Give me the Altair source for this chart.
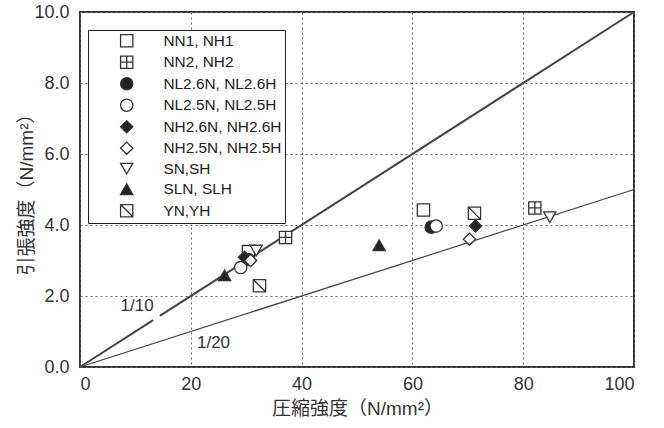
import altair as alt
import pandas as pd

# ---- data ----
series = ["NN1, NH1", "NN2, NH2", "NL2.6N, NL2.6H", "NL2.5N, NL2.5H",
          "NH2.6N, NH2.6H", "NH2.5N, NH2.5H", "SN,SH", "SLN, SLH", "YN,YH"]
comp_N = [30.4, 37.1, 30.4, 29.0, 29.7, 30.8, 31.8, 26.1, 32.4]
tens_N = [3.25, 3.65, 3.03, 2.80, 3.09, 3.00, 3.28, 2.58, 2.29]
comp_H = [62.0, 82.1, 63.4, 64.3, 71.4, 70.3, 84.8, 54.0, 71.2]
tens_H = [4.42, 4.48, 3.94, 3.97, 3.97, 3.60, 4.22, 3.43, 4.33]

x_ticks = [0, 20, 40, 60, 80, 100]
y_ticks = [0, 2, 4, 6, 8, 10]

# reference lines (ratio tensile/compressive), 1/10 line broken at its label
line_name = ["1/10", "1/10", "1/10b", "1/10b", "1/20", "1/20"]
line_x = [0, 13.2, 14.4, 100, 0, 100]
line_y = [0, 1.32, 1.44, 10, 0, 5]

label_text = ["1/10", "1/20"]
label_x = [10.3, 24.1]
label_y = [1.72, 0.68]

# ---- styles ----
SQ = "M-1,-1H1V1H-1Z"
shape_range = ["square", SQ + "M0,-1V1M-1,0H1", "circle", "circle", "diamond",
               "diamond", "triangle-down", "triangle-up", SQ + "M-1,-1L1,1"]
fill_range = ["white", "white", "#222", "white", "#222", "white", "white", "#222", "white"]
stroke_range = ["#333"] * len(series)

FONT = "Liberation Sans, Arial, 'Noto Sans CJK JP', sans-serif"

rows = []
for s, x, y in zip(series, comp_N, tens_N):
    rows.append({"series": s, "comp": x, "tens": y})
for s, x, y in zip(series, comp_H, tens_H):
    rows.append({"series": s, "comp": x, "tens": y})
pts = pd.DataFrame(rows)

lines = pd.DataFrame({"name": line_name, "comp": line_x, "tens": line_y})
labels = pd.DataFrame({"text": label_text, "comp": label_x, "tens": label_y})

xscale = alt.Scale(domain=[0, 100], nice=False, zero=True)
yscale = alt.Scale(domain=[0, 10], nice=False, zero=True)

xaxis = alt.Axis(values=x_ticks, title="圧縮強度（N/mm²）", format="d",
                 grid=True, ticks=False, domain=False, labelPadding=8,
                 titlePadding=6)
yaxis = alt.Axis(values=y_ticks, title="引張強度（N/mm²）", format=".1f",
                 grid=True, ticks=False, domain=False, labelPadding=11,
                 titlePadding=-3)

legend = alt.Legend(title=None, orient="none", legendX=8, legendY=18,
                    strokeColor="#222", fillColor="white", padding=3, symbolSize=150,
                    symbolStrokeWidth=1.3, symbolStrokeColor="#333",
                    labelFontSize=15.4, labelFont=FONT, labelColor="#222",
                    symbolOffset=28, labelOffset=29, rowPadding=2.5,
                    labelLimit=300)

base_x = alt.X("comp:Q", scale=xscale, axis=xaxis)
base_y = alt.Y("tens:Q", scale=yscale, axis=yaxis)

ref_lines = alt.Chart(lines).mark_line(color="#444").encode(
    x=base_x, y=base_y, detail="name:N",
    strokeWidth=alt.condition(alt.datum.name == "1/20", alt.value(1.2), alt.value(2.0)),
)

ref_labels = alt.Chart(labels).mark_text(fontSize=17, font=FONT, color="#333").encode(
    x="comp:Q", y="tens:Q", text="text:N"
)

points = alt.Chart(pts).mark_point(filled=True, strokeWidth=1.3,
                                   size=150, opacity=1).encode(
    x="comp:Q", y="tens:Q",
    shape=alt.Shape("series:N", scale=alt.Scale(domain=series, range=shape_range), legend=legend),
    fill=alt.Fill("series:N", scale=alt.Scale(domain=series, range=fill_range), legend=legend),
    stroke=alt.Stroke("series:N", scale=alt.Scale(domain=series, range=stroke_range), legend=legend),
    order=alt.Order("idx:Q"),
).transform_window(idx="row_number()")

chart = alt.layer(ref_lines, ref_labels, points).properties(
    width=554, height=355,
    autosize=alt.AutoSizeParams(type="none"),
    padding={"left": 80, "top": 12, "right": 30, "bottom": 61},
    background="white",
).configure_view(
    stroke="#333", strokeWidth=2
).configure_axis(
    labelFont=FONT, labelFontSize=18, labelColor="#333",
    titleFont=FONT, titleFontSize=19, titleColor="#333", titleFontWeight="normal",
    gridColor="#666", gridDash=[2, 3], gridWidth=1,
)

chart.save("out.html", embed_options={"renderer": "svg", "actions": False})
